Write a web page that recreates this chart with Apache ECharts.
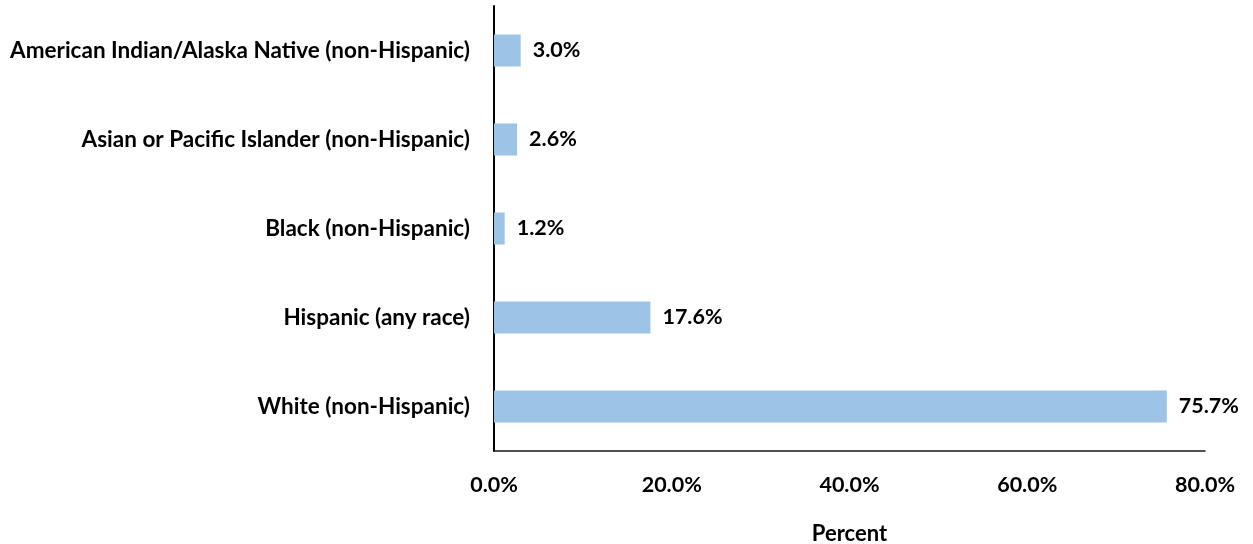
<!DOCTYPE html>
<html>
<head>
<meta charset="utf-8">
<script src="https://cdn.jsdelivr.net/npm/echarts@6/dist/echarts.min.js"></script>
<style>
  html, body { margin: 0; padding: 0; background: #fff; }
  #chart { width: 1253px; height: 544px; }
</style>
</head>
<body>
<div id="chart"></div>
<script>
// Race / ethnicity groups, listed top to bottom as drawn
const categories = [
  'American Indian/Alaska Native (non-Hispanic)',
  'Asian or Pacific Islander (non-Hispanic)',
  'Black (non-Hispanic)',
  'Hispanic (any race)',
  'White (non-Hispanic)'
];
const percents = [3.0, 2.6, 1.2, 17.6, 75.7];
const xTicks = [0, 20, 40, 60, 80];

const FONT = 'Lato';
const chart = echarts.init(document.getElementById('chart'));

chart.setOption({
  animation: false,
  grid: { left: 494, right: 48, top: 6, bottom: 93, containLabel: false, outerBoundsMode: 'none' },
  xAxis: {
    type: 'value',
    min: xTicks[0],
    max: xTicks[xTicks.length - 1],
    interval: 20,
    name: 'Percent',
    nameLocation: 'middle',
    nameGap: 72,
    nameTextStyle: { color: '#000', fontFamily: FONT, fontWeight: 'bold', fontSize: 22 },
    axisLine: { show: true, lineStyle: { color: '#1a1a1a', width: 1.5 } },
    axisTick: { show: false },
    splitLine: { show: false },
    axisLabel: {
      color: '#000', fontFamily: FONT, fontWeight: 'bold', fontSize: 21.5, margin: 23,
      formatter: v => v.toFixed(1) + '%'
    }
  },
  yAxis: {
    type: 'category',
    inverse: true,
    data: categories,
    axisLine: { show: true, lineStyle: { color: '#000', width: 2 } },
    axisTick: { show: false },
    axisLabel: { color: '#000', fontFamily: FONT, fontWeight: 'bold', fontSize: 22.5, margin: 24 }
  },
  series: [{
    type: 'bar',
    data: percents,
    barWidth: 32,
    itemStyle: { color: '#9DC3E6' },
    label: {
      show: true,
      position: 'right',
      distance: 12,
      color: '#000',
      fontFamily: FONT,
      fontWeight: 'bold',
      fontSize: 21.5,
      formatter: p => p.value.toFixed(1) + '%'
    }
  }]
});
</script>
</body>
</html>
